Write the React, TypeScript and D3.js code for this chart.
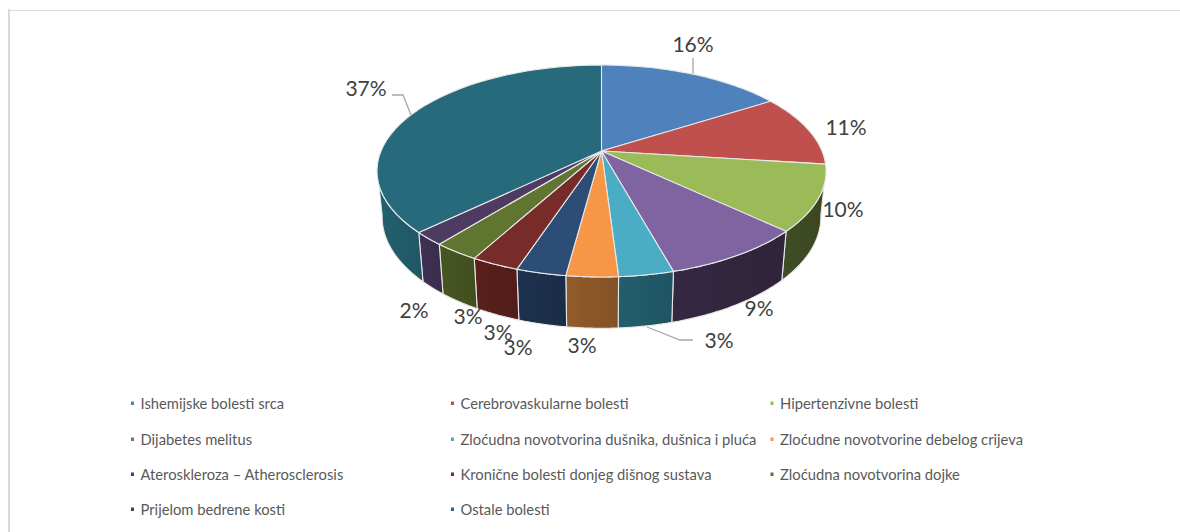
import React from "react";
import * as d3 from "d3";

const categories = [
  "Ishemijske bolesti srca",
  "Cerebrovaskularne bolesti",
  "Hipertenzivne bolesti",
  "Dijabetes melitus",
  "Zloćudna novotvorina dušnika, dušnica i pluća",
  "Zloćudne novotvorine debelog crijeva",
  "Ateroskleroza – Atherosclerosis",
  "Kronične bolesti donjeg dišnog sustava",
  "Zloćudna novotvorina dojke",
  "Prijelom bedrene kosti",
  "Ostale bolesti",
];
const shares = [16, 11, 10, 8.7, 3.3, 3.1, 3, 2.9, 2.8, 2, 37.2];
const topColors = ["#4F81BD", "#C0504D", "#9BBB59", "#8064A2", "#4BACC6", "#F79646", "#2C4D75", "#772C2A", "#5F7530", "#4D3B62", "#276A7C"];
const wallColors = ["#2F4D71", "#732F2E", "#3D4A23", "#32263F", "#215968", "#8A5628", "#1B2F4B", "#551E1B", "#43521F", "#3C2E50", "#215B69"];
const labelCenters: [number, number][] = [
  [693, 43], [846, 126], [843, 208], [759, 307], [719, 339], [582, 344],
  [518, 346], [498, 331], [468, 315], [414, 309], [366, 87],
];
const leaders: [number, number][][] = [
  [[693, 58], [693, 74]],
  [[647, 327], [680, 340], [693, 340]],
  [[392, 95], [403, 95], [411, 115]],
];
const legendCols = [131, 451, 770.5];
const legendRows = [403, 439, 474, 509];

const CX = 601.5, TOP_Y0 = 151, A = 220.5, B = 102.2, P = 0.1887;
const WALL_X = 0.977, WALL_Y = 1.05, WALL_Y0 = 196;

const top = (t: number): [number, number] => {
  const w = 1 + P * Math.cos(t);
  return [CX + (A * Math.sin(t)) / w, TOP_Y0 - (B * Math.cos(t)) / w];
};
const bottom = (t: number): [number, number] => {
  const [x, y] = top(t);
  return [CX + (x - CX) * WALL_X, WALL_Y0 + (y - TOP_Y0) * WALL_Y];
};
const arcPts = (f: (t: number) => [number, number], a: number, b: number) =>
  d3.range(0, 41).map((i) => f(a + ((b - a) * i) / 40));

const pieGen = d3.pie<number>().sort(null).value((d) => d);
const arcs = pieGen(shares);
const line = d3.line();
const rad = d3.scaleLinear().domain([0, 360]).range([0, 2 * Math.PI]);
const TOP_CLIP = [rad(108), rad(252)];
const BOTTOM_CLIP = [rad(100), rad(260)];

export default function App() {
  return (
    <svg width={1180} height={532} style={{ position: "absolute", left: 0, top: 0, display: "block" }} fontFamily="Lato, sans-serif">
      <defs>
        {wallColors.map((c, i) => (
          <linearGradient key={i} id={`w${i}`} x1="0" x2="1" y1="0" y2="0">
            <stop offset="0" stopColor={d3.color(c)!.brighter(0.15).formatHex()} />
            <stop offset="1" stopColor={d3.color(c)!.darker(0.15).formatHex()} />
          </linearGradient>
        ))}
      </defs>
      <rect width={1180} height={532} fill="#fff" />
      <path d="M9 532V9" fill="none" stroke="#d9d9d9" strokeWidth={2} />
      <path d="M8 10.5H1180" fill="none" stroke="#d9d9d9" strokeWidth={1.2} />
      {arcs.map((d, i) => {
        const a = Math.max(d.startAngle, TOP_CLIP[0]), b = Math.min(d.endAngle, TOP_CLIP[1]);
        const a2 = Math.max(d.startAngle, BOTTOM_CLIP[0]), b2 = Math.min(d.endAngle, BOTTOM_CLIP[1]);
        if (b2 <= a2) return null;
        const pts = [...arcPts(top, Math.min(a, b), b), ...arcPts(bottom, a2, b2).reverse()];
        return <path key={i} d={line(pts) + "Z"} fill={`url(#w${i})`} stroke="#e8e8e8" strokeWidth={1.1} strokeLinejoin="round" />;
      })}
      {arcs.map((d, i) => {
        const pts = [[CX, TOP_Y0] as [number, number], ...arcPts(top, d.startAngle, d.endAngle)];
        return <path key={i} d={line(pts) + "Z"} fill={topColors[i]} stroke="#e8e8e8" strokeWidth={1.1} strokeLinejoin="round" />;
      })}
      {leaders.map((l, i) => (
        <path key={i} d={line(l)!} fill="none" stroke="#a6a6a6" strokeWidth={1.3} />
      ))}
      {shares.map((s, i) => (
        <text key={i} x={labelCenters[i][0]} y={labelCenters[i][1]} textAnchor="middle" dominantBaseline="central" fontSize={21} fill="#404040">
          {Math.round(s)}%
        </text>
      ))}
      {categories.map((c, i) => {
        const x = legendCols[i % 3], y = legendRows[Math.floor(i / 3)];
        return (
          <g key={i}>
            <rect x={x} y={y - 1.5} width={3} height={3.5} fill={topColors[i]} />
            <text x={x + 9.5} y={y} dominantBaseline="central" fontSize={14.75} fill="#595959">{c}</text>
          </g>
        );
      })}
    </svg>
  );
}
